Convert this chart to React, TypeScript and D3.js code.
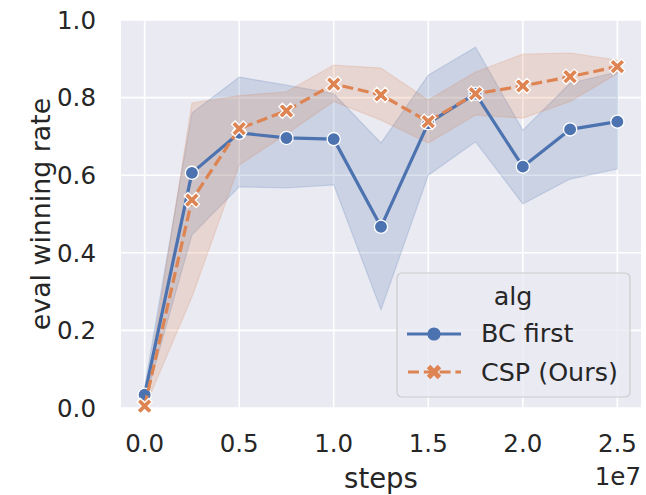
import React from 'react'
import * as d3 from 'd3'

const steps = [0, 2.5e6, 5e6, 7.5e6, 1e7, 1.25e7, 1.5e7, 1.75e7, 2e7, 2.25e7, 2.5e7]

const bcMean = [0.034, 0.606, 0.709, 0.696, 0.693, 0.467, 0.734, 0.81, 0.622, 0.718, 0.738]
const bcLow = [0.015, 0.446, 0.57, 0.567, 0.575, 0.253, 0.6, 0.686, 0.526, 0.59, 0.616]
const bcHigh = [0.055, 0.76, 0.853, 0.832, 0.81, 0.683, 0.858, 0.93, 0.716, 0.837, 0.866]

const cspMean = [0.005, 0.536, 0.72, 0.766, 0.835, 0.807, 0.738, 0.81, 0.83, 0.854, 0.88]
const cspLow = [0.0, 0.286, 0.626, 0.706, 0.79, 0.742, 0.683, 0.755, 0.747, 0.79, 0.862]
const cspHigh = [0.012, 0.786, 0.805, 0.815, 0.884, 0.876, 0.794, 0.866, 0.912, 0.915, 0.897]

const xTicks = [0, 5e6, 1e7, 1.5e7, 2e7, 2.5e7]
const yTicks = [0, 0.2, 0.4, 0.6, 0.8, 1.0]

const BLUE = '#4c72b0'
const ORANGE = '#dd8452'
const FONT = 'DejaVu Sans, sans-serif'
const TEXT = '#262626'

const W = 646
const H = 495
const left = 121
const right = 641
const top = 20
const bottom = 408

// X marker (matplotlib 'X'), centred on 0,0
const xMarker = (s: number, w: number) => {
  const pts: [number, number][] = [
    [0, -w], [s - w, -s], [s, -(s - w)], [w, 0], [s, s - w], [s - w, s],
    [0, w], [-(s - w), s], [-s, s - w], [-w, 0], [-s, -(s - w)], [-(s - w), -s],
  ]
  return 'M' + pts.map(p => p.join(',')).join('L') + 'Z'
}

const App = () => {
  const x = d3.scaleLinear().domain([-0.125e7, 2.625e7]).range([left, right])
  const y = d3.scaleLinear().domain([0, 1]).range([bottom, top])

  const band = (lo: number[], hi: number[]) =>
    d3.area<number>()
      .x((_, i) => x(steps[i]))
      .y0((_, i) => y(lo[i]))
      .y1((_, i) => y(hi[i]))(steps)

  const line = (vals: number[]) =>
    d3.line<number>()
      .x((_, i) => x(steps[i]))
      .y(d => y(d))(vals)

  const xm = xMarker(7.6, 3.5)
  const xmLegend = xMarker(7.2, 3.5)

  return (
    <svg width={W} height={H} style={{ position: 'absolute', left: 0, top: 0 }}
      fontFamily={FONT}>
      <rect x={0} y={0} width={W} height={H} fill="white" />
      <rect x={left} y={top} width={right - left} height={bottom - top} fill="#eaeaf2" />

      {xTicks.map(t => (
        <line key={'gx' + t} x1={x(t)} x2={x(t)} y1={top} y2={bottom} stroke="white" strokeWidth={1.6} />
      ))}
      {yTicks.map(t => (
        <line key={'gy' + t} x1={left} x2={right} y1={y(t)} y2={y(t)} stroke="white" strokeWidth={1.6} />
      ))}

      <path d={band(bcLow, bcHigh) ?? ''} fill={BLUE} fillOpacity={0.2} stroke={BLUE} strokeOpacity={0.2} strokeWidth={1.2} />
      <path d={band(cspLow, cspHigh) ?? ''} fill={ORANGE} fillOpacity={0.2} stroke={ORANGE} strokeOpacity={0.2} strokeWidth={1.2} />

      <path d={line(bcMean) ?? ''} fill="none" stroke={BLUE} strokeWidth={3.2} strokeLinejoin="round" />
      {bcMean.map((v, i) => (
        <circle key={'bc' + i} cx={x(steps[i])} cy={y(v)} r={6.6} fill={BLUE} stroke="white" strokeWidth={1.3} />
      ))}

      <path d={line(cspMean) ?? ''} fill="none" stroke={ORANGE} strokeWidth={3.2} strokeDasharray="11,4.8" />
      {cspMean.map((v, i) => (
        <path key={'csp' + i} d={xm} transform={`translate(${x(steps[i])},${y(v)})`} fill={ORANGE} stroke="white" strokeWidth={1.3} />
      ))}

      {/* axes text */}
      {xTicks.map(t => (
        <text key={'tx' + t} x={x(t)} y={452} fontSize={24.5} fill={TEXT} textAnchor="middle">
          {(t / 1e7).toFixed(1)}
        </text>
      ))}
      {yTicks.map(t => (
        <text key={'ty' + t} x={96} y={y(t)} dy="0.36em" fontSize={24.5} fill={TEXT} textAnchor="end">
          {t.toFixed(1)}
        </text>
      ))}
      <text x={(left + right) / 2} y={488} fontSize={27.5} fill={TEXT} textAnchor="middle">steps</text>
      <text x={641} y={485} fontSize={24.5} fill={TEXT} textAnchor="end">1e7</text>
      <text transform={`translate(50,214) rotate(-90)`} fontSize={26.8} fill={TEXT} textAnchor="middle">
        eval winning rate
      </text>

      {/* legend */}
      <rect x={397} y={273} width={233} height={124} rx={5} fill="#eaeaf2" fillOpacity={0.8} stroke="#cccccc" strokeWidth={1.2} />
      <text x={513} y={305} fontSize={25.4} fill={TEXT} textAnchor="middle">alg</text>
      <line x1={407} x2={461} y1={334} y2={334} stroke={BLUE} strokeWidth={3.2} />
      <circle cx={434} cy={334} r={6.6} fill={BLUE} />
      <text x={481} y={342} fontSize={25.4} fill={TEXT}>BC first</text>
      <line x1={407} x2={461} y1={372} y2={372} stroke={ORANGE} strokeWidth={3.2} strokeDasharray="11,4.8" strokeDashoffset={-1} />
      <path d={xmLegend} transform="translate(434,372)" fill={ORANGE} />
      <text x={481} y={381} fontSize={25.4} fill={TEXT}>CSP (Ours)</text>
    </svg>
  )
}

export default App
